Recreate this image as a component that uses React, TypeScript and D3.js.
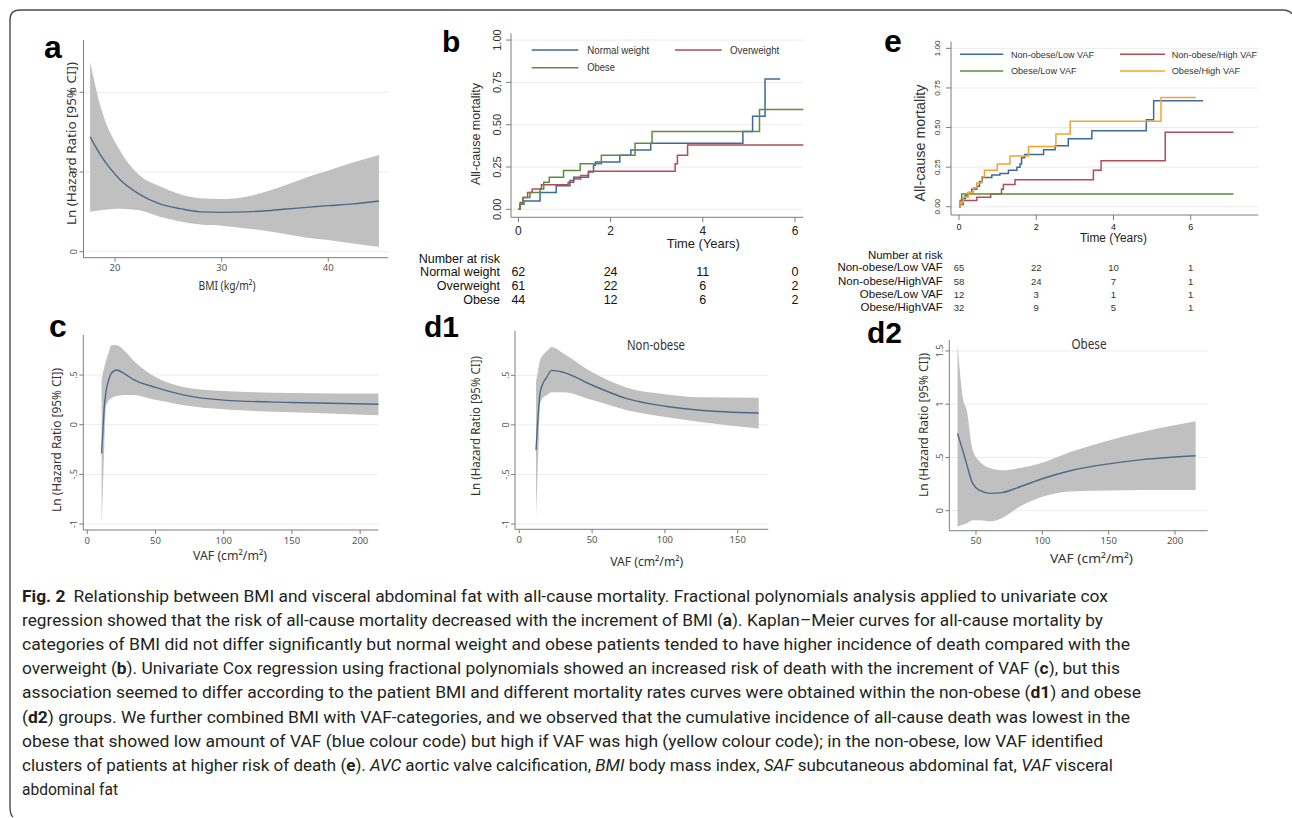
import React from "react";
import * as d3 from "d3";

const W = 1292;
const H = 818;
const ARIAL = "'Liberation Sans', Arial, sans-serif";
const SEGOE = "'Noto Sans', 'Open Sans', sans-serif";
const CAPF = "Roboto, 'Noto Sans', sans-serif";

const BLUE = "#3d6a99";
const RED = "#b04d58";
const GREEN = "#5f8b3d";
const ORANGE = "#f0a52e";
const BAND = "#c0c0c0";
const FITC = "#4b6a89";

// ---------- Panel a : BMI fractional polynomial ----------
const bmiValues = [17.66, 18.6, 20.5, 22.3, 24.2, 26.1, 28, 30, 32.3, 34.2, 36.1, 38, 40, 42.3, 44.75];
const bmiFit = [0.72, 0.61, 0.45, 0.36, 0.3, 0.27, 0.25, 0.247, 0.25, 0.257, 0.268, 0.278, 0.289, 0.3, 0.318];
const bmiUpper = [1.19, 0.92, 0.63, 0.48, 0.41, 0.36, 0.335, 0.33, 0.345, 0.377, 0.42, 0.467, 0.51, 0.56, 0.607];
const bmiLower = [0.25, 0.26, 0.27, 0.26, 0.22, 0.19, 0.17, 0.163, 0.146, 0.13, 0.11, 0.088, 0.073, 0.052, 0.03];
const bmiTicks = [20, 30, 40];
const lnTicksA = [0, 0.5, 1];

// ---------- Panel c : VAF (all) ----------
const vafC = [10.5, 11.5, 12.5, 13.7, 15.5, 17.8, 21.5, 27.6, 33.7, 50, 70.4, 100, 150, 213.4];
const fitC = [-0.29, -0.05, 0.18, 0.33, 0.44, 0.52, 0.55, 0.51, 0.456, 0.375, 0.3, 0.247, 0.223, 0.206];
const upperC = [0.45, 0.52, 0.58, 0.64, 0.72, 0.8, 0.8, 0.74, 0.65, 0.48, 0.38, 0.34, 0.32, 0.314];
const lowerC = [-1.02, -0.62, -0.2, 0.18, 0.24, 0.27, 0.29, 0.3, 0.3, 0.25, 0.196, 0.155, 0.125, 0.095];
const vafTicksC = [0, 50, 100, 150, 200];
const lnTicksC = [-1, -0.5, 0, 0.5];

// ---------- Panel d1 : VAF non-obese ----------
const vafD1 = [11.5, 12.5, 13.5, 14.2, 16, 18.8, 22.2, 30.3, 50.2, 73.9, 100.2, 124.3, 164.4];
const fitD1 = [-0.255, 0.0, 0.2, 0.315, 0.41, 0.48, 0.55, 0.53, 0.4, 0.265, 0.188, 0.148, 0.12];
const upperD1 = [0.43, 0.52, 0.6, 0.65, 0.7, 0.74, 0.785, 0.72, 0.53, 0.375, 0.31, 0.28, 0.275];
const lowerD1 = [-0.93, -0.5, -0.1, 0.2, 0.27, 0.3, 0.33, 0.33, 0.25, 0.148, 0.08, 0.03, -0.037];
const vafTicksD1 = [0, 50, 100, 150];
const lnTicksD1 = [-1, -0.5, 0, 0.5];

// ---------- Panel d2 : VAF obese ----------
const vafD2 = [36.1, 40.4, 42.9, 47.5, 53, 60.6, 69.4, 83.2, 100, 121, 150, 175.2, 215.5];
const fitD2 = [0.726, 0.55, 0.44, 0.257, 0.19, 0.163, 0.17, 0.225, 0.3, 0.375, 0.44, 0.48, 0.516];
const upperD2 = [1.57, 1.04, 0.95, 0.57, 0.46, 0.4, 0.38, 0.4, 0.45, 0.55, 0.66, 0.74, 0.84];
const lowerD2 = [-0.15, -0.13, -0.12, -0.09, -0.09, -0.1, -0.07, 0.04, 0.13, 0.18, 0.19, 0.195, 0.195];
const vafTicksD2 = [50, 100, 150, 200];
const lnTicksD2 = [0, 0.5, 1, 1.5];

// ---------- Panel b : Kaplan-Meier by BMI category ----------
const bCategories = ["Normal weight", "Overweight", "Obese"];
const nwTimes = [0, 0.03, 0.12, 0.47, 0.82, 1.12, 1.2, 1.52, 1.63, 1.67, 2.2, 2.44, 2.87, 4.87, 5.08, 5.35, 5.68];
const nwMort = [0, 0.03, 0.05, 0.1, 0.14, 0.17, 0.19, 0.22, 0.26, 0.28, 0.32, 0.35, 0.39, 0.46, 0.55, 0.77, 0.77];
const owTimes = [0, 0.04, 0.1, 0.2, 0.3, 0.5, 1.08, 1.2, 1.35, 1.52, 3.4, 3.45, 3.67, 6.18];
const owMort = [0, 0.04, 0.07, 0.1, 0.12, 0.145, 0.16, 0.18, 0.2, 0.225, 0.27, 0.32, 0.38, 0.38];
const obTimes = [0, 0.03, 0.1, 0.25, 0.47, 0.55, 0.67, 0.98, 1.34, 1.8, 2.53, 2.9, 5.23, 6.18];
const obMort = [0, 0.03, 0.07, 0.1, 0.12, 0.16, 0.19, 0.23, 0.27, 0.32, 0.39, 0.46, 0.59, 0.59];
const riskTimes = [0, 2, 4, 6];
const riskNormal = [62, 24, 11, 0];
const riskOver = [61, 22, 6, 2];
const riskObese = [44, 12, 6, 2];

// ---------- Panel e : Kaplan-Meier by BMI x VAF ----------
const eCategories = ["Non-obese/Low VAF", "Non-obese/High VAF", "Obese/Low VAF", "Obese/High VAF"];
const eRiskLabels = ["Non-obese/Low VAF", "Non-obese/HighVAF", "Obese/Low VAF", "Obese/HighVAF"];
const nlTimes = [0, 0.03, 0.07, 0.16, 0.24, 0.33, 0.46, 0.53, 0.6, 0.85, 1.06, 1.28, 1.5, 1.58, 1.62, 1.7, 2.19, 2.49, 2.83, 3.44, 4.85, 5.04, 6.32];
const nlMort = [0, 0.03, 0.05, 0.07, 0.09, 0.11, 0.13, 0.16, 0.185, 0.2, 0.21, 0.23, 0.25, 0.27, 0.31, 0.33, 0.36, 0.385, 0.43, 0.48, 0.55, 0.67, 0.67];
const nhTimes = [0, 0.03, 0.11, 0.46, 0.82, 1.1, 1.15, 1.45, 3.48, 3.68, 5.34, 7.11];
const nhMort = [0, 0.015, 0.04, 0.06, 0.08, 0.11, 0.14, 0.17, 0.23, 0.29, 0.47, 0.47];
const olTimes = [0, 0.03, 0.07, 7.11];
const olMort = [0, 0.04, 0.08, 0.08];
const ohTimes = [0, 0.03, 0.11, 0.24, 0.37, 0.46, 0.59, 0.66, 0.99, 1.32, 1.8, 2.51, 2.88, 5.23, 6.14];
const ohMort = [0, 0.03, 0.06, 0.09, 0.12, 0.15, 0.19, 0.23, 0.27, 0.32, 0.38, 0.46, 0.54, 0.69, 0.69];
const riskNL = [65, 22, 10, 1];
const riskNH = [58, 24, 7, 1];
const riskOL = [12, 3, 1, 1];
const riskOH = [32, 9, 5, 1];
const kmTicks = [0, 0.25, 0.5, 0.75, 1];
const yearTicks = [0, 2, 4, 6];

// ---------- Caption ----------
type Seg = [string, "n" | "b" | "i"];
const captionLines: Seg[][] = [
  [["Fig. 2", "b"], ["Relationship between BMI and visceral abdominal fat with all-cause mortality. Fractional polynomials analysis applied to univariate cox", "n"]],
  [["regression showed that the risk of all-cause mortality decreased with the increment of BMI (", "n"], ["a", "b"], ["). Kaplan\u2013Meier curves for all-cause mortality by", "n"]],
  [["categories of BMI did not differ significantly but normal weight and obese patients tended to have higher incidence of death compared with the", "n"]],
  [["overweight (", "n"], ["b", "b"], ["). Univariate Cox regression using fractional polynomials showed an increased risk of death with the increment of VAF (", "n"], ["c", "b"], ["), but this", "n"]],
  [["association seemed to differ according to the patient BMI and different mortality rates curves were obtained within the non-obese (", "n"], ["d1", "b"], [") and obese", "n"]],
  [["(", "n"], ["d2", "b"], [") groups. We further combined BMI with VAF-categories, and we observed that the cumulative incidence of all-cause death was lowest in the", "n"]],
  [["obese that showed low amount of VAF (blue colour code) but high if VAF was high (yellow colour code); in the non-obese, low VAF identified", "n"]],
  [["clusters of patients at higher risk of death (", "n"], ["e", "b"], ["). ", "n"], ["AVC", "i"], [" aortic valve calcification, ", "n"], ["BMI", "i"], [" body mass index, ", "n"], ["SAF", "i"], [" subcutaneous abdominal fat, ", "n"], ["VAF", "i"], [" visceral", "n"]],
  [["abdominal fat", "n"]],
];
const captionWidths = [1086, 1081, 1108, 1098, 1119, 1108, 1081, 1091, 96];

// ---------- Layout configs ----------
const panelA = {
  xv: bmiValues, fit: bmiFit, upper: bmiUpper, lower: bmiLower,
  xDomain: [17.04, 45.6], xRange: [83.5, 388],
  yDomain: [-0.0376, 1.328], yRange: [257.7, 40],
  xTicks: bmiTicks, yTicks: lnTicksA,
  xTitle: "BMI (kg/m\u00b2)", xTitlePos: [227, 290], xTitleLen: 57,
  yTitlePos: [71, 143.5], yTitleLen: 163,
  letter: "a", letterPos: [44, 58], letterSize: 32,
};
const panelC = {
  xv: vafC, fit: fitC, upper: upperC, lower: lowerC,
  xDomain: [-2.9, 213.3], xRange: [83.3, 378.3],
  yDomain: [-1.06, 0.903], yRange: [530, 335],
  xTicks: vafTicksC, yTicks: lnTicksC,
  xTitle: "VAF (cm\u00b2/m\u00b2)", xTitlePos: [230, 560], xTitleLen: 74,
  yTitlePos: [56, 440], yTitleLen: 144,
  letter: "c", letterPos: [49, 336.5], letterSize: 32,
};
const panelD1 = {
  xv: vafD1, fit: fitD1, upper: upperD1, lower: lowerD1,
  xDomain: [-2.95, 171], xRange: [515, 768.3],
  yDomain: [-1.053, 0.95], yRange: [529.3, 330.7],
  xTicks: vafTicksD1, yTicks: lnTicksD1,
  xTitle: "VAF (cm\u00b2/m\u00b2)", xTitlePos: [646.7, 566], xTitleLen: 73,
  yTitlePos: [475, 426], yTitleLen: 140,
  subtitle: "Non-obese", subtitlePos: [656, 350], subtitleLen: 58,
  letter: "d1", letterPos: [424, 336.5], letterSize: 30,
};
const panelD2 = {
  xv: vafD2, fit: fitD2, upper: upperD2, lower: lowerD2,
  xDomain: [29.9, 224.6], xRange: [949.3, 1207.7],
  yDomain: [-0.188, 1.603], yRange: [530.7, 340],
  xTicks: vafTicksD2, yTicks: lnTicksD2,
  xTitle: "VAF (cm\u00b2/m\u00b2)", xTitlePos: [1091.5, 563], xTitleLen: 83,
  yTitlePos: [923.3, 425], yTitleLen: 144,
  subtitle: "Obese", subtitlePos: [1089, 349], subtitleLen: 35,
  letter: "d2", letterPos: [867, 343], letterSize: 30,
};

const panelB = {
  series: [
    { name: bCategories[0], t: nwTimes, v: nwMort, color: BLUE },
    { name: bCategories[1], t: owTimes, v: owMort, color: RED },
    { name: bCategories[2], t: obTimes, v: obMort, color: GREEN },
  ],
  legend: [
    { i: 0, line: [531.7, 578.3], y: 50, tx: 587.3, len: 62 },
    { i: 1, line: [675, 721.7], y: 50, tx: 730, len: 49.3 },
    { i: 2, line: [531.7, 578.3], y: 67.7, tx: 587.3, len: 27.7 },
  ],
  legendFont: 10.5,
  xDomain: [-0.16, 6.18], xRange: [511, 803.3],
  yDomain: [-0.047, 1.04], yRange: [217.3, 33.3],
  yTickFont: 11, yTickX: 501, xTickFont: 12, xTickDy: 17.5,
  yTitlePos: [480, 134], yTitleLen: 102, yTitleFont: 13.5,
  xTitlePos: [703.3, 248], xTitleLen: 73, xTitleFont: 13.5,
  risk: {
    header: [500, 262.5], headerLen: 80, labelX: 500, font: 12.5, numFont: 12.5, numColor: "#111",
    rows: [
      { label: bCategories[0], vals: riskNormal, y: 276 },
      { label: bCategories[1], vals: riskOver, y: 290 },
      { label: bCategories[2], vals: riskObese, y: 303.5 },
    ],
  },
  letter: "b", letterPos: [442, 51.7], letterSize: 30,
};

const panelE = {
  series: [
    { name: eCategories[0], t: nlTimes, v: nlMort, color: BLUE },
    { name: eCategories[1], t: nhTimes, v: nhMort, color: RED },
    { name: eCategories[2], t: olTimes, v: olMort, color: GREEN },
    { name: eCategories[3], t: ohTimes, v: ohMort, color: ORANGE },
  ],
  legend: [
    { i: 0, line: [960, 1003.3], y: 54.3, tx: 1011, len: 83 },
    { i: 1, line: [1120, 1165], y: 54.3, tx: 1171.7, len: 85.5 },
    { i: 2, line: [960, 1003.3], y: 71, tx: 1011, len: 65.5 },
    { i: 3, line: [1120, 1165], y: 71, tx: 1171.7, len: 68.5 },
  ],
  legendFont: 9.5,
  xDomain: [-0.207, 7.75], xRange: [951, 1258.3],
  yDomain: [-0.052, 1.042], yRange: [215, 41.7],
  yTickFont: 8, yTickX: 939.5, xTickFont: 9, xTickDy: 15,
  yTitlePos: [925, 143], yTitleLen: 117, yTitleFont: 15,
  xTitlePos: [1113.5, 242], xTitleLen: 67, xTitleFont: 12.5,
  risk: {
    header: [942.7, 258.5], headerLen: 75, labelX: 942.7, font: 11.5, numFont: 9.5, numColor: "#333",
    rows: [
      { label: eRiskLabels[0], vals: riskNL, y: 270.7 },
      { label: eRiskLabels[1], vals: riskNH, y: 284.7 },
      { label: eRiskLabels[2], vals: riskOL, y: 298 },
      { label: eRiskLabels[3], vals: riskOH, y: 311.3 },
    ],
  },
  letter: "e", letterPos: [884, 51.7], letterSize: 32,
};

const fmtLn = (t: number) => (t === 0 ? "0" : String(t).replace(/^(-?)0\./, "$1."));
const AX = "#7d7d7d";
const GRID = "#ececec";

function FPPanel({ cfg }: { cfg: any }) {
  const x = d3.scaleLinear().domain(cfg.xDomain).range(cfg.xRange);
  const y = d3.scaleLinear().domain(cfg.yDomain).range(cfg.yRange);
  const pts = cfg.xv.map((v: number, i: number) => ({ x: v, f: cfg.fit[i], u: cfg.upper[i], l: cfg.lower[i] }));
  const area = d3.area<any>().x((d) => x(d.x)).y0((d) => y(d.l)).y1((d) => y(d.u)).curve(d3.curveMonotoneX);
  const line = d3.line<any>().x((d) => x(d.x)).y((d) => y(d.f)).curve(d3.curveMonotoneX);
  const [xl, xr] = cfg.xRange;
  const [yb, yt] = cfg.yRange;
  return (
    <g>
      {cfg.yTicks.map((t: number) => (
        <line key={"g" + t} x1={xl} x2={xr} y1={y(t)} y2={y(t)} stroke={GRID} strokeWidth={1} />
      ))}
      <path d={area(pts) || ""} fill={BAND} />
      <path d={line(pts) || ""} fill="none" stroke={FITC} strokeWidth={1.4} />
      <line x1={xl} x2={xl} y1={yb} y2={yt} stroke={AX} strokeWidth={1} />
      <line x1={xl} x2={xr} y1={yb} y2={yb} stroke={AX} strokeWidth={1} />
      {cfg.yTicks.map((t: number) => (
        <g key={"y" + t}>
          <line x1={xl - 4} x2={xl} y1={y(t)} y2={y(t)} stroke={AX} />
          <text transform={`translate(${xl - 6.5},${y(t)}) rotate(-90)`} textAnchor="middle" fontSize={9} fill="#555" fontFamily={SEGOE}>
            {fmtLn(t)}
          </text>
        </g>
      ))}
      {cfg.xTicks.map((t: number) => (
        <g key={"x" + t}>
          <line x1={x(t)} x2={x(t)} y1={yb} y2={yb + 4} stroke={AX} />
          <text x={x(t)} y={yb + 13.5} textAnchor="middle" fontSize={9.5} fill="#555" fontFamily={SEGOE}>
            {t}
          </text>
        </g>
      ))}
      <text x={cfg.xTitlePos[0]} y={cfg.xTitlePos[1]} textAnchor="middle" fontSize={13} fill="#333" fontFamily={SEGOE}
        textLength={cfg.xTitleLen} lengthAdjust="spacingAndGlyphs">
        {cfg.xTitle}
      </text>
      <text transform={`translate(${cfg.yTitlePos[0] + 4.5},${cfg.yTitlePos[1]}) rotate(-90)`} textAnchor="middle" fontSize={13}
        fill="#333" fontFamily={SEGOE} textLength={cfg.yTitleLen} lengthAdjust="spacingAndGlyphs">
        Ln (Hazard Ratio [95% CI])
      </text>
      {cfg.subtitle && (
        <text x={cfg.subtitlePos[0]} y={cfg.subtitlePos[1]} textAnchor="middle" fontSize={13.5} fill="#333" fontFamily={SEGOE}
          textLength={cfg.subtitleLen} lengthAdjust="spacingAndGlyphs">
          {cfg.subtitle}
        </text>
      )}
      <text x={cfg.letterPos[0]} y={cfg.letterPos[1]} fontSize={cfg.letterSize} fontWeight="bold" fill="#000" fontFamily={ARIAL}>
        {cfg.letter}
      </text>
    </g>
  );
}

function KMPanel({ cfg }: { cfg: any }) {
  const x = d3.scaleLinear().domain(cfg.xDomain).range(cfg.xRange);
  const y = d3.scaleLinear().domain(cfg.yDomain).range(cfg.yRange);
  const step = d3.line<[number, number]>().x((d) => x(d[0])).y((d) => y(d[1])).curve(d3.curveStepAfter);
  const [xl, xr] = cfg.xRange;
  const [yb, yt] = cfg.yRange;
  const f2 = d3.format(".2f");
  return (
    <g>
      {kmTicks.map((t) => (
        <line key={"g" + t} x1={xl} x2={xr} y1={y(t)} y2={y(t)} stroke={GRID} />
      ))}
      {cfg.series.map((s: any) => (
        <path key={s.name} d={step(d3.zip(s.t, s.v) as [number, number][]) || ""} fill="none" stroke={s.color} strokeWidth={1.5} />
      ))}
      <line x1={xl} x2={xl} y1={yb} y2={yt} stroke={AX} />
      <line x1={xl} x2={xr} y1={yb} y2={yb} stroke={AX} />
      {kmTicks.map((t) => (
        <g key={"y" + t}>
          <line x1={xl - 5} x2={xl} y1={y(t)} y2={y(t)} stroke={AX} />
          <text transform={`translate(${cfg.yTickX},${y(t)}) rotate(-90)`} textAnchor="middle" fontSize={cfg.yTickFont} fill="#333" fontFamily={ARIAL}>
            {f2(t)}
          </text>
        </g>
      ))}
      {yearTicks.map((t) => (
        <g key={"x" + t}>
          <line x1={x(t)} x2={x(t)} y1={yb} y2={yb + 5} stroke={AX} />
          <text x={x(t)} y={yb + cfg.xTickDy} textAnchor="middle" fontSize={cfg.xTickFont} fill="#222" fontFamily={ARIAL}>
            {t}
          </text>
        </g>
      ))}
      <text transform={`translate(${cfg.yTitlePos[0]},${cfg.yTitlePos[1]}) rotate(-90)`} textAnchor="middle" fontSize={cfg.yTitleFont}
        fill="#333" fontFamily={ARIAL} textLength={cfg.yTitleLen} lengthAdjust="spacingAndGlyphs">
        All-cause mortality
      </text>
      <text x={cfg.xTitlePos[0]} y={cfg.xTitlePos[1]} textAnchor="middle" fontSize={cfg.xTitleFont} fill="#222" fontFamily={ARIAL}
        textLength={cfg.xTitleLen} lengthAdjust="spacingAndGlyphs">
        Time (Years)
      </text>
      {cfg.legend.map((l: any) => (
        <g key={"l" + l.i}>
          <line x1={l.line[0]} x2={l.line[1]} y1={l.y} y2={l.y} stroke={cfg.series[l.i].color} strokeWidth={1.5} />
          <text x={l.tx} y={l.y + cfg.legendFont * 0.36} fontSize={cfg.legendFont} fill="#333" fontFamily={ARIAL}
            textLength={l.len} lengthAdjust="spacingAndGlyphs">
            {cfg.series[l.i].name}
          </text>
        </g>
      ))}
      <text x={cfg.risk.header[0]} y={cfg.risk.header[1]} textAnchor="end" fontSize={cfg.risk.font} fill="#111" fontFamily={ARIAL}>
        Number at risk
      </text>
      {cfg.risk.rows.map((r: any) => (
        <g key={r.label}>
          <text x={cfg.risk.labelX} y={r.y} textAnchor="end" fontSize={cfg.risk.font} fill="#111" fontFamily={ARIAL}>
            {r.label}
          </text>
          {r.vals.map((v: number, i: number) => (
            <text key={i} x={x(riskTimes[i])} y={r.y} textAnchor="middle" fontSize={cfg.risk.numFont} fill={cfg.risk.numColor} fontFamily={ARIAL}>
              {v}
            </text>
          ))}
        </g>
      ))}
      <text x={cfg.letterPos[0]} y={cfg.letterPos[1]} fontSize={cfg.letterSize} fontWeight="bold" fill="#000" fontFamily={ARIAL}>
        {cfg.letter}
      </text>
    </g>
  );
}

function Caption() {
  const y0 = 602;
  const dy = 24.1;
  return (
    <g fontFamily={CAPF} fontSize={17} fill="#231f20">
      {captionLines.map((segs, li) => (
        <text key={li} x={22} y={y0 + li * dy} textLength={captionWidths[li]} lengthAdjust="spacingAndGlyphs">
          {segs.map((s, si) => (
            <tspan key={si} fontWeight={s[1] === "b" ? "bold" : "normal"} fontStyle={s[1] === "i" ? "italic" : "normal"}
              dx={li === 0 && si === 1 ? 8 : 0}>
              {s[0]}
            </tspan>
          ))}
        </text>
      ))}
    </g>
  );
}

export default function App() {
  return (
    <svg width={W} height={H} viewBox={`0 0 ${W} ${H}`} style={{ position: "absolute", left: 0, top: 0, background: "#fff" }}>
      <rect x={0} y={0} width={W} height={H} fill="#fff" />
      <path d="M 13,817 Q 10,815 10,806 L 10,20 Q 10,10 20,10 L 1283,10 Q 1289,10 1292,14" fill="none" stroke="#4a4a4a" strokeWidth={1.4} />
      <FPPanel cfg={panelA} />
      <KMPanel cfg={panelB} />
      <KMPanel cfg={panelE} />
      <FPPanel cfg={panelC} />
      <FPPanel cfg={panelD1} />
      <FPPanel cfg={panelD2} />
      <Caption />
    </svg>
  );
}
